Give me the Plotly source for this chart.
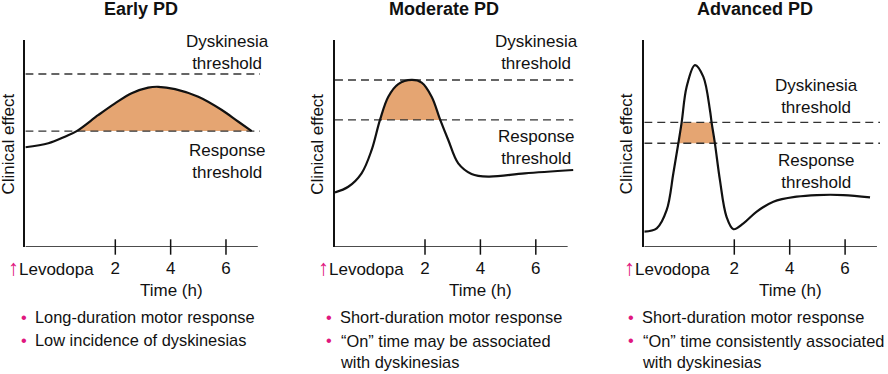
import numpy as np
import plotly.graph_objects as go

# ---------------- data ----------------
titles = ["Early PD", "Moderate PD", "Advanced PD"]
tick_vals = [2, 4, 6]
tick_text = ["2", "4", "6"]

early_t = [-1.25, -0.42, 0.18, 0.605, 1.39, 1.99, 2.59, 3.19, 3.55, 4.16, 5.0, 5.85, 6.45, 6.93]
early_y = [48.2, 50.1, 53.3, 56.0, 63.8, 69.4, 74.3, 77.0, 77.4, 76.3, 72.6, 66.2, 60.5, 56.0]
early_resp, early_dysk = 56.0, 83.6

mod_t = [-1.25, -0.77, -0.29, 0.075, 0.375, 0.675, 1.035, 1.52, 1.88, 2.24, 2.55, 2.84, 3.20, 3.68, 4.28, 5.60, 7.35]
mod_y = [26.4, 29.1, 35.6, 46.9, 61.4, 72.6, 78.7, 80.7, 79.4, 72.6, 61.4, 51.7, 40.4, 35.3, 34.0, 35.6, 37.2]
mod_resp, mod_dysk = 61.4, 80.7

adv_t = [-1.25, -0.80, -0.44, -0.20, -0.02, 0.10, 0.28, 0.58, 0.88, 1.12, 1.18, 1.30, 1.48, 1.72,
         1.97, 2.33, 2.81, 3.41, 4.25, 4.98, 5.94, 6.90]
adv_y = [7.4, 9.0, 17.9, 35.6, 50.1, 60.2, 77.4, 87.9, 82.3, 66.2, 60.2, 50.1, 32.4, 14.6,
         8.6, 11.4, 17.1, 21.9, 24.3, 25.1, 25.1, 24.0]
adv_resp, adv_dysk = 50.1, 60.2

bullets = [
    ["Long-duration motor response", "Low incidence of dyskinesias"],
    ["Short-duration motor response", "\u201cOn\u201d time may be associated<br>with dyskinesias"],
    ["Short-duration motor response", "\u201cOn\u201d time consistently associated<br>with dyskinesias"],
]

# ---------------- layout geometry (pixels) ----------------
W, H = 888, 374
FONT = "Liberation Sans, Arial, Helvetica, sans-serif"
FS = 17
FS_BUL = 16.4
PINK = "#E0177F"
FILL = "#E5A572"
T_LEFT = -1.25
AXIS_END = 7.15
Y_TOP_PX, Y_BOT_PX = 40, 247

panels = [
    dict(t=early_t, y=early_y, resp=early_resp, dysk=early_dysk, tick2=115.3, sp=27.67, right_px=272,
         dash_end=7.23, spline_fill=True,
         title_x=140.5, dys_lab=(227, 52), resp_lab=(227, 162), clin_x=7.5, lev_x=6, time_x=171,
         bul_x=24, txt_x=32.5),
    dict(t=mod_t, y=mod_y, resp=mod_resp, dysk=mod_dysk, tick2=425.0, sp=27.7, right_px=582,
         dash_end=7.35, spline_fill=True,
         title_x=444, dys_lab=(536.5, 52), resp_lab=(536.5, 147.3), clin_x=316.7, lev_x=316, time_x=480.3,
         bul_x=329.3, txt_x=337.5),
    dict(t=adv_t, y=adv_y, resp=adv_resp, dysk=adv_dysk, tick2=734.3, sp=27.7, right_px=887,
         dash_end=7.26, spline_fill=False,
         title_x=755, dys_lab=(816, 96.7), resp_lab=(816, 171.7), clin_x=626.3, lev_x=621.5, time_x=790,
         bul_x=631, txt_x=639.5),
]

def px(x):
    return x / W

def py(y):
    return (H - y) / H

fig = go.Figure()
annotations = []

for i, p in enumerate(panels):
    n = "" if i == 0 else str(i + 1)
    xa, ya = "x" + n, "y" + n
    left_px = p["tick2"] - (2 - T_LEFT) * p["sp"]
    t_right = 2 + (p["right_px"] - p["tick2"]) / p["sp"]

    fig.layout["xaxis" + n] = dict(
        domain=[px(left_px), px(p["right_px"])], range=[T_LEFT, t_right],
        showgrid=False, zeroline=False, showline=False,
        tickvals=tick_vals, ticktext=tick_text, ticks="", ticklabelstandoff=9,
        tickfont=dict(family=FONT, size=FS, color="#111"), anchor=ya, fixedrange=True)
    fig.layout["yaxis" + n] = dict(
        domain=[py(Y_BOT_PX), py(Y_TOP_PX)], range=[0, 100],
        showgrid=False, zeroline=False, showline=True, linecolor="#111", linewidth=1.5,
        showticklabels=False, ticks="", anchor=xa, fixedrange=True)

    t = np.array(p["t"])
    v = np.array(p["y"])
    mask = v >= p["resp"] - 1e-9
    ft = t[mask]
    fv = np.minimum(v[mask], p["dysk"])

    # filled "on" region
    fig.add_trace(go.Scatter(
        x=ft, y=fv, mode="lines", fill="toself", fillcolor=FILL,
        line=dict(width=0, color=FILL, shape="spline" if p["spline_fill"] else "linear"),
        xaxis=xa, yaxis=ya, hoverinfo="skip", showlegend=False))

    # threshold dashed lines
    for thr in (p["dysk"], p["resp"]):
        fig.add_trace(go.Scatter(
            x=[T_LEFT, p["dash_end"]], y=[thr, thr], mode="lines",
            line=dict(color="#333", width=1.4, dash="8px,5px"),
            xaxis=xa, yaxis=ya, hoverinfo="skip", showlegend=False))

    # response curve
    fig.add_trace(go.Scatter(
        x=t, y=v, mode="lines", line=dict(color="#111", width=2.2, shape="spline", smoothing=1.0),
        xaxis=xa, yaxis=ya, hoverinfo="skip", showlegend=False, cliponaxis=False))

    # x axis line
    fig.add_trace(go.Scatter(
        x=[T_LEFT, AXIS_END], y=[0, 0], mode="lines", line=dict(color="#111", width=1.5),
        xaxis=xa, yaxis=ya, hoverinfo="skip", showlegend=False, cliponaxis=False))
    # tick marks crossing the axis
    fig.add_trace(go.Scatter(
        x=tick_vals, y=[0] * len(tick_vals), mode="markers",
        marker=dict(symbol="line-ns", size=11, line=dict(color="#111", width=1.5)),
        xaxis=xa, yaxis=ya, hoverinfo="skip", showlegend=False, cliponaxis=False))

    f = dict(family=FONT, size=FS, color="#111")
    annotations.append(dict(text="<b>%s</b>" % titles[i], x=px(p["title_x"]), y=py(9),
                            xref="paper", yref="paper", showarrow=False, xanchor="center", yanchor="middle",
                            font=dict(family=FONT, size=18, color="#111")))
    annotations.append(dict(text="Dyskinesia<br>threshold", x=px(p["dys_lab"][0]), y=py(p["dys_lab"][1]),
                            xref="paper", yref="paper", showarrow=False, xanchor="center", yanchor="middle",
                            align="center", font=f))
    annotations.append(dict(text="Response<br>threshold", x=px(p["resp_lab"][0]), y=py(p["resp_lab"][1]),
                            xref="paper", yref="paper", showarrow=False, xanchor="center", yanchor="middle",
                            align="center", font=f))
    annotations.append(dict(text="Clinical effect", x=px(p["clin_x"]), y=py(144), textangle=-90,
                            xref="paper", yref="paper", showarrow=False, xanchor="center", yanchor="middle",
                            font=f))
    annotations.append(dict(text="<span style='color:%s;font-size:22px'>\u2191</span>Levodopa" % PINK,
                            x=px(p["lev_x"]), y=py(267), xref="paper", yref="paper", showarrow=False,
                            xanchor="left", yanchor="middle", font=f))
    annotations.append(dict(text="Time (h)", x=px(p["time_x"]), y=py(290), xref="paper", yref="paper",
                            showarrow=False, xanchor="center", yanchor="middle", font=f))
    # bullet list
    line_y = [316.5, 340.0]
    fb = dict(family=FONT, size=FS_BUL, color="#111")
    for j, item in enumerate(bullets[i]):
        annotations.append(dict(text="\u2022", x=px(p["bul_x"]), y=py(line_y[j]), xref="paper", yref="paper",
                                showarrow=False, xanchor="center", yanchor="middle",
                                font=dict(family=FONT, size=FS_BUL, color=PINK)))
        nlines = item.count("<br>") + 1
        cy = line_y[j] + (nlines - 1) * 23.3 / 2
        annotations.append(dict(text=item, x=px(p["txt_x"]), y=py(cy), xref="paper", yref="paper",
                                showarrow=False, xanchor="left", yanchor="middle", align="left", font=fb))

fig.update_layout(
    width=W, height=H, margin=dict(l=0, r=0, t=0, b=0),
    paper_bgcolor="white", plot_bgcolor="white",
    annotations=annotations, showlegend=False,
    font=dict(family=FONT, size=FS, color="#111"),
)

fig.write_html("out.html", config={"displayModeBar": False},
               post_script="document.body.style.margin='0px';document.body.style.overflow='hidden';")
